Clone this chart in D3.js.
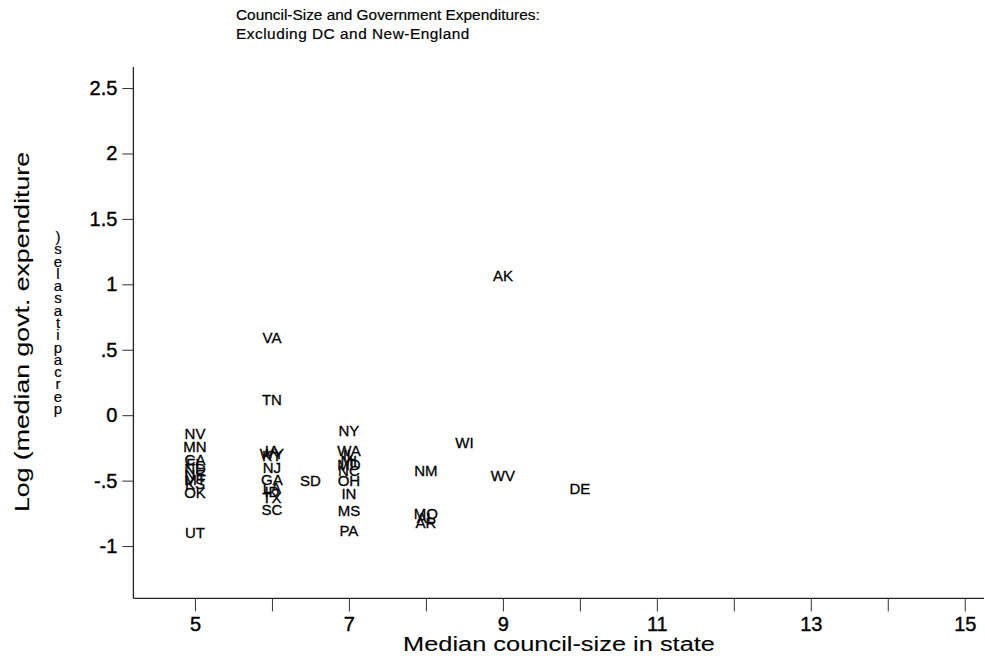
<!DOCTYPE html>
<html>
<head>
<meta charset="utf-8">
<script src="https://cdn.jsdelivr.net/npm/d3@7"></script>
<style>
  body { margin: 0; background: #fff; }
  svg { display: block; font-family: "Liberation Sans", Arial, sans-serif; }
</style>
</head>
<body>
<svg id="chart" width="985" height="656"></svg>
<script>
// ---- data ----
const states = ["NV","MN","CA","FL","ND","NE","MT","KS","OK","UT",
                "IA","WY","KY","NJ","GA","LA","ID","TX","SC","VA","TN",
                "SD",
                "NY","WA","IL","MI","MD","NC","OH","IN","MS","PA",
                "NM","MO","AL","AR","WI","AK","WV","DE"];
const councilSize = [5,5,5,5,5,5,5,5,5,5,
                     6,6,6,6,6,6,6,6,6,6,6,
                     6.5,
                     7,7,7,7,7,7,7,7,7,7,
                     8,8,8,8,8.5,9,9,10];
const logExpend = [-0.14,-0.24,-0.34,-0.37,-0.41,-0.45,-0.49,-0.52,-0.59,-0.90,
                   -0.27,-0.29,-0.31,-0.40,-0.49,-0.55,-0.58,-0.63,-0.72,0.59,0.12,
                   -0.50,
                   -0.12,-0.27,-0.30,-0.35,-0.38,-0.42,-0.50,-0.60,-0.73,-0.88,
                   -0.42,-0.75,-0.78,-0.82,-0.21,1.07,-0.46,-0.56];
const yTicks = [-1,-0.5,0,0.5,1,1.5,2,2.5];
const yTickLabels = ["-1","-.5","0",".5","1","1.5","2","2.5"];
const xTicks = [5,6,7,8,9,10,11,12,13,14,15];
const xTickLabels = ["5","","7","","9","","11","","13","","15"];
const titleLines = ["Council-Size and Government Expenditures:", "Excluding DC and New-England"];
const xTitle = "Median council-size in state";
const yTitle = "Log (median govt. expenditure";
const yTitleStack = "percapitasales)";

// ---- scales ----
const svg = d3.select("#chart");
const x = d3.scaleLinear().domain([4.2, 15.25]).range([133.4, 984]);
const y = d3.scaleLinear().domain([-1.4, 2.66]).range([598.4, 67.1]);
const ink = "#000";
const thick = 0.4;

// ---- axes ----
const yAxis = d3.axisLeft(y).tickValues(yTicks)
  .tickFormat((d,i) => yTickLabels[i]).tickSize(11).tickPadding(5);
const gy = svg.append("g").attr("transform", `translate(${x.range()[0]},0)`).call(yAxis);
gy.select(".domain").attr("stroke", "#222").attr("stroke-width", 1.3)
  .attr("d", `M0,${y.range()[1]}V${y.range()[0]}`);
gy.selectAll(".tick line").attr("stroke", "#333");
gy.selectAll(".tick text").attr("font-size", 20).attr("fill", ink)
  .attr("stroke", ink).attr("stroke-width", thick)
  .attr("font-family", "Liberation Sans, Arial, sans-serif");

const xAxis = d3.axisBottom(x).tickValues(xTicks)
  .tickFormat((d,i) => xTickLabels[i]).tickSize(13).tickPadding(5);
const gx = svg.append("g").attr("transform", `translate(0,${y.range()[0]})`).call(xAxis);
gx.select(".domain").attr("stroke", "#222").attr("stroke-width", 1.3)
  .attr("d", `M${x.range()[0]},0H${x.range()[1]}`);
gx.selectAll(".tick line").attr("stroke", "#333");
gx.selectAll(".tick text").attr("font-size", 20).attr("fill", ink)
  .attr("stroke", ink).attr("stroke-width", thick)
  .attr("font-family", "Liberation Sans, Arial, sans-serif");

// ---- point labels ----
svg.append("g").selectAll("text").data(states).join("text")
  .attr("x", (d,i) => x(councilSize[i]))
  .attr("y", (d,i) => y(logExpend[i]))
  .attr("text-anchor", "middle")
  .attr("dominant-baseline", "central")
  .attr("font-size", 15)
  .attr("fill", ink).attr("stroke", ink).attr("stroke-width", 0.3)
  .text(d => d);

// ---- titles ----
const title = svg.append("text").attr("fill", ink).attr("stroke", ink).attr("stroke-width", 0.2);
title.append("tspan").attr("x", 236).attr("y", 20).attr("font-size", 15.4).text(titleLines[0]);
title.append("tspan").attr("x", 236).attr("y", 39).attr("font-size", 15.4)
  .attr("letter-spacing", 0.5).text(titleLines[1]);

svg.append("text").attr("x", 403).attr("y", 651)
  .attr("font-size", 20).attr("fill", ink).attr("stroke", ink).attr("stroke-width", 0.1)
  .attr("textLength", 312).attr("lengthAdjust", "spacingAndGlyphs").text(xTitle);

svg.append("text").attr("transform", "translate(29,512) rotate(-90)")
  .attr("font-size", 20).attr("fill", ink).attr("stroke", ink).attr("stroke-width", 0.1)
  .attr("textLength", 360).attr("lengthAdjust", "spacingAndGlyphs").text(yTitle);

// stacked (vertical) continuation of the y title, read bottom to top
const stackChars = yTitleStack.split("");
const stackY = d3.scaleLinear().domain([0, stackChars.length - 1]).range([414, 242]);
svg.append("text").attr("font-size", 15).attr("fill", ink).attr("stroke", ink).attr("stroke-width", 0.2)
  .attr("text-anchor", "middle")
  .selectAll("tspan").data(stackChars).join("tspan")
  .attr("x", 58).attr("y", (d,i) => stackY(i))
  .text(d => d);
</script>
</body>
</html>
